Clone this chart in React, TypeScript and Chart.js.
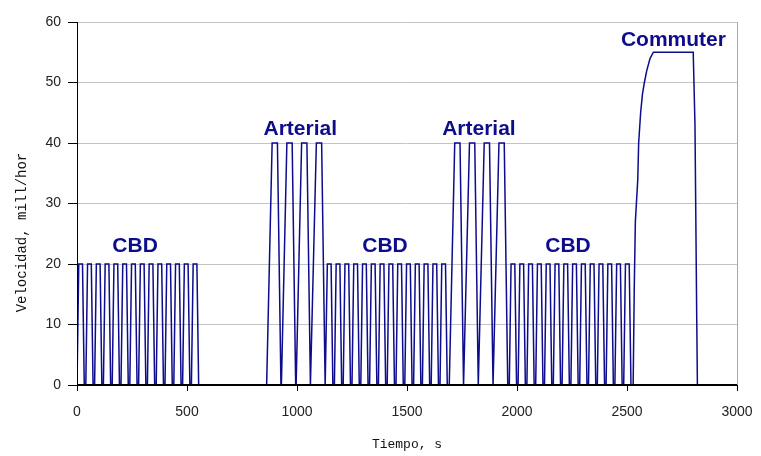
import React, { useEffect, useRef } from 'react';
import { Chart, registerables } from 'chart.js';

Chart.register(...registerables);

// ---- Data (time in s, speed in mill/hor) ----
const cbd1Time = [
  0, 8, 25, 33, 40, 48, 65, 73, 80, 88, 105, 113, 120, 128, 145, 153,
  160, 168, 185, 193, 200, 208, 225, 233, 240, 248, 265, 273, 280, 288, 305, 313,
  320, 328, 345, 353, 360, 368, 385, 393, 400, 408, 425, 433, 440, 448, 465, 473,
  480, 488, 505, 513, 520, 528, 545, 553,
];
const art1Time = [
  862, 887, 911, 927, 929, 954, 978, 994, 996, 1021, 1045, 1061, 1063, 1088, 1112, 1128,
];
const cbd2Time = [
  1130, 1138, 1155, 1163, 1170, 1178, 1195, 1203, 1210, 1218, 1235, 1243,
  1250, 1258, 1275, 1283, 1290, 1298, 1315, 1323, 1330, 1338, 1355, 1363,
  1370, 1378, 1395, 1403, 1410, 1418, 1435, 1443, 1450, 1458, 1475, 1483,
  1490, 1498, 1515, 1523, 1530, 1538, 1555, 1563, 1570, 1578, 1595, 1603,
  1610, 1618, 1635, 1643, 1650, 1658, 1675, 1683,
];
const art2Time = [
  1692, 1717, 1741, 1757, 1759, 1784, 1808, 1824, 1826, 1851, 1875, 1891, 1893, 1918, 1942, 1958,
];
const cbd3Time = [
  1965, 1973, 1990, 1998, 2005, 2013, 2030, 2038, 2045, 2053, 2070, 2078,
  2085, 2093, 2110, 2118, 2125, 2133, 2150, 2158, 2165, 2173, 2190, 2198,
  2205, 2213, 2230, 2238, 2245, 2253, 2270, 2278, 2285, 2293, 2310, 2318,
  2325, 2333, 2350, 2358, 2365, 2373, 2390, 2398, 2405, 2413, 2430, 2438,
  2445, 2453, 2470, 2478, 2485, 2493, 2510, 2518,
];
const cbdSpeed = [
  0, 20, 20, 0, 0, 20, 20, 0, 0, 20, 20, 0, 0, 20, 20, 0,
  0, 20, 20, 0, 0, 20, 20, 0, 0, 20, 20, 0, 0, 20, 20, 0,
  0, 20, 20, 0, 0, 20, 20, 0, 0, 20, 20, 0, 0, 20, 20, 0,
  0, 20, 20, 0, 0, 20, 20, 0,
];
const arterialSpeed = [
  0, 40, 40, 0, 0, 40, 40, 0, 0, 40, 40, 0, 0, 40, 40, 0,
];
const commuterTime = [
  2528, 2533, 2538, 2549, 2553, 2562, 2570, 2579, 2590, 2605, 2620, 2801, 2809, 2817, 2820,
];
const commuterSpeed = [
  0, 16, 27, 34, 40, 45, 48, 50, 52, 54, 55, 55, 43, 11, 0,
];

const xTickValues = [0, 500, 1000, 1500, 2000, 2500, 3000];
const yTickValues = [0, 10, 20, 30, 40, 50, 60];

const phaseLabels = ['CBD', 'Arterial', 'CBD', 'Arterial', 'CBD', 'Commuter'];
const phaseLabelTime = [264, 1015, 1400, 1827, 2232, 2711];
const phaseLabelSpeed = [22, 41.3, 22, 41.3, 22, 56];

const xTitle = 'Tiempo, s';
const yTitle = 'Velocidad, mill/hor';

// ---------------------------------------------------------------------
const NAVY = '#0c0c8c';
const TITLE_FONT_FAMILY = '"Liberation Mono", "Courier New", monospace';

function toPoints(times: number[], speeds: number[]) {
  return times.map((t, i) => ({ x: t, y: speeds[i] }));
}

const labelsPlugin = {
  id: 'phaseLabels',
  afterDatasetsDraw(chart: any) {
    const { ctx, scales, chartArea } = chart;
    const xs = scales.x;
    const ys = scales.y;
    ctx.save();
    // redraw black axis lines over the zero-level trace
    ctx.strokeStyle = '#000';
    ctx.lineWidth = 2;
    ctx.beginPath();
    ctx.moveTo(chartArea.left, Math.round(chartArea.bottom));
    ctx.lineTo(chartArea.right, Math.round(chartArea.bottom));
    ctx.stroke();
    ctx.lineWidth = 1;
    ctx.beginPath();
    ctx.moveTo(Math.round(chartArea.left) + 0.5, chartArea.top);
    ctx.lineTo(Math.round(chartArea.left) + 0.5, chartArea.bottom);
    ctx.stroke();

    ctx.font = 'bold 21px "Liberation Sans", Arial, sans-serif';
    ctx.fillStyle = NAVY;
    ctx.textAlign = 'center';
    ctx.textBaseline = 'alphabetic';
    phaseLabels.forEach((txt, i) => {
      ctx.fillText(txt, xs.getPixelForValue(phaseLabelTime[i]), ys.getPixelForValue(phaseLabelSpeed[i]));
    });

    // y-axis title (placed lower than centre, as in the reference)
    ctx.save();
    ctx.translate(22, chartArea.top + (chartArea.bottom - chartArea.top) * 0.58);
    ctx.rotate(-Math.PI / 2);
    ctx.font = '14px ' + TITLE_FONT_FAMILY;
    ctx.fillStyle = '#111';
    ctx.textAlign = 'center';
    ctx.textBaseline = 'middle';
    ctx.fillText(yTitle, 0, 0);
    ctx.restore();

    ctx.restore();
  },
};

export default function App() {
  const canvasRef = useRef<HTMLCanvasElement | null>(null);

  useEffect(() => {
    if (!canvasRef.current) return;
    const data = [
      ...toPoints(cbd1Time, cbdSpeed),
      ...toPoints(art1Time, arterialSpeed),
      ...toPoints(cbd2Time, cbdSpeed),
      ...toPoints(art2Time, arterialSpeed),
      ...toPoints(cbd3Time, cbdSpeed),
      ...toPoints(commuterTime, commuterSpeed),
    ];
    const tickFont = { family: '"Liberation Sans", Arial, sans-serif', size: 14 };
    const titleFont = { family: TITLE_FONT_FAMILY, size: 13 };
    const chart = new Chart(canvasRef.current, {
      type: 'scatter',
      data: {
        datasets: [
          {
            data,
            showLine: true,
            borderColor: NAVY,
            backgroundColor: NAVY,
            borderWidth: 1.5,
            pointRadius: 0,
            tension: 0,
          },
        ],
      },
      options: {
        responsive: false,
        animation: false,
        events: [],
        layout: { padding: { top: 22, right: 24, bottom: 0, left: 0 } },
        plugins: {
          legend: { display: false },
          tooltip: { enabled: false },
          title: { display: false },
        },
        scales: {
          x: {
            type: 'linear',
            min: 0,
            max: 3000,
            afterBuildTicks: (scale: any) => {
              scale.ticks = xTickValues.map((v) => ({ value: v }));
            },
            afterFit: (scale: any) => {
              scale.height = 71;
              scale.paddingLeft = 0;
              scale.paddingRight = 0;
              scale.paddingTop = 0;
              scale.paddingBottom = 0;
            },
            ticks: {
              font: tickFont,
              color: '#222',
              padding: 13,
              maxRotation: 0,
              callback: (v: any) => String(v),
            },
            grid: {
              drawOnChartArea: true,
              color: (c: any) => (c.tick && c.tick.value === 3000 ? '#a8a8a8' : 'rgba(0,0,0,0)'),
              tickColor: '#000',
              tickLength: 6,
              lineWidth: 1,
            },
            border: { display: true, color: '#000', width: 1 },
            title: {
              display: true,
              text: xTitle,
              font: titleFont,
              color: '#111',
              padding: { top: 0, bottom: 4 },
            },
          },
          y: {
            type: 'linear',
            min: 0,
            max: 60,
            afterBuildTicks: (scale: any) => {
              scale.ticks = yTickValues.map((v) => ({ value: v }));
            },
            afterFit: (scale: any) => {
              scale.width = 77;
              scale.paddingLeft = 0;
              scale.paddingRight = 0;
              scale.paddingTop = 0;
              scale.paddingBottom = 0;
            },
            ticks: {
              font: tickFont,
              color: '#222',
              padding: 7,
              callback: (v: any) => String(v),
            },
            grid: {
              drawOnChartArea: true,
              color: '#c4c4c4',
              tickColor: '#000',
              tickLength: 9,
              lineWidth: 1,
            },
            border: { display: true, color: '#000', width: 1 },
            title: { display: false },
          },
        },
      },
      plugins: [labelsPlugin],
    } as any);
    return () => chart.destroy();
  }, []);

  return (
    <div style={{ position: 'absolute', left: 0, top: 0, width: 761, height: 456, background: '#fff' }}>
      <canvas ref={canvasRef} width={761} height={456} />
    </div>
  );
}
